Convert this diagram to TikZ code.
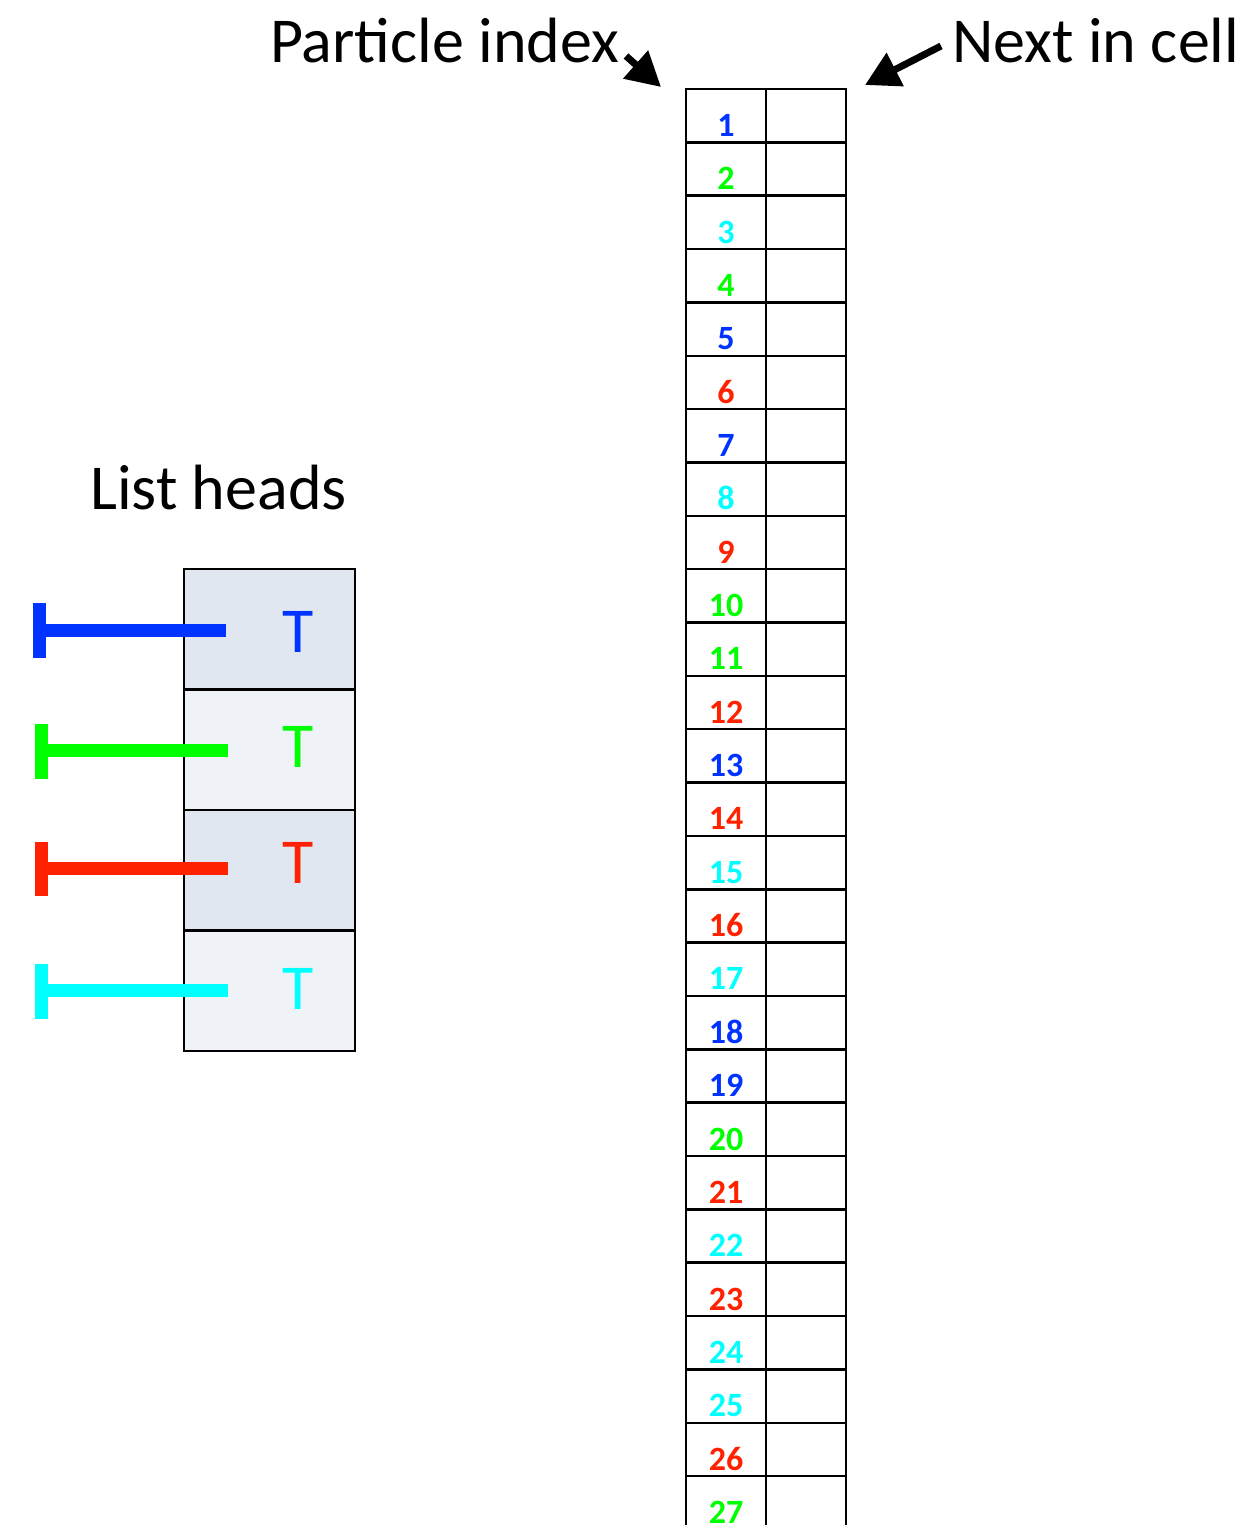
\documentclass[tikz,border=0pt]{standalone}
\usepackage{fontspec}
\setmainfont{Carlito}
\usetikzlibrary{arrows.meta}
\definecolor{cblue}{RGB}{0,51,255}
\definecolor{cgreen}{RGB}{0,255,0}
\definecolor{cred}{RGB}{255,34,0}
\definecolor{ccyan}{RGB}{0,255,255}
\definecolor{fdark}{RGB}{224,231,241}
\definecolor{flight}{RGB}{239,243,248}
\tikzset{
  cellbox/.style={draw=black, line width=2.5pt, minimum width=80pt, minimum height=53.35pt, inner sep=0pt, outer sep=0pt},
  headbox/.style={draw=black, line width=2.5pt, minimum width=171pt, minimum height=120.5pt, inner sep=0pt, outer sep=0pt},
  numtxt/.style={anchor=base, inner sep=0pt, font=\fontsize{34}{40}\selectfont\bfseries},
  bigtxt/.style={anchor=base west, inner sep=0pt, font=\fontsize{64}{70}\selectfont},
  ttxt/.style={anchor=base, inner sep=0pt, font=\fontsize{64}{70}\selectfont},
  pointer/.style={line width=7pt, -{Triangle[length=34pt,width=36pt]}},
  headbar/.style={line width=13pt, line cap=butt}
}
\begin{document}
\begin{tikzpicture}[x=1pt,y=-1pt]
\useasboundingbox[fill=white] (0,0) rectangle (1244,1525);
% table
\foreach \i/\c in {1/cblue,2/cgreen,3/ccyan,4/cgreen,5/cblue,6/cred,7/cblue,8/ccyan,9/cred,10/cgreen,11/cgreen,12/cred,13/cblue,14/cred,15/ccyan,16/cred,17/ccyan,18/cblue,19/cblue,20/cgreen,21/cred,22/ccyan,23/cred,24/ccyan,25/ccyan,26/cred,27/cgreen}{
  \pgfmathsetmacro{\yc}{89+53.35*(\i-1)+26.675}
  \pgfmathsetmacro{\yb}{89+53.35*\i-6}
  \node[cellbox] (p\i) at (726,\yc) {};
  \node[cellbox] (q\i) at (806,\yc) {};
  \node[numtxt, text=\c] (n\i) at (726,\yb) {\i};
}
% list heads
\node[headbox, fill=fdark]  (h1) at (269.5,629.25) {};
\node[headbox, fill=flight] (h2) at (269.5,749.75) {};
\node[headbox, fill=fdark]  (h3) at (269.5,870.25) {};
\node[headbox, fill=flight] (h4) at (269.5,990.75) {};
\node[ttxt, text=cblue]  (t1) at (298,652) {T};
\node[ttxt, text=cgreen] (t2) at (298,767) {T};
\node[ttxt, text=cred]   (t3) at (298,883) {T};
\node[ttxt, text=ccyan]  (t4) at (298,1009) {T};
% bars
\coordinate (e1) at (226,630);   \coordinate (s1) at (33,630);
\coordinate (e2) at (228,750.5); \coordinate (s2) at (35,750.5);
\coordinate (e3) at (228,868);   \coordinate (s3) at (35,868);
\coordinate (e4) at (228,990.5); \coordinate (s4) at (35,990.5);
\draw[headbar, cblue]  (e1) -- (s1);
\draw[headbar, cblue]  (39.5,603) -- (39.5,658);
\draw[headbar, cgreen] (e2) -- (s2);
\draw[headbar, cgreen] (41.5,724) -- (41.5,779);
\draw[headbar, cred]   (e3) -- (s3);
\draw[headbar, cred]   (41.5,842) -- (41.5,896);
\draw[headbar, ccyan]  (e4) -- (s4);
\draw[headbar, ccyan]  (41.5,964) -- (41.5,1019);
% labels
\node[bigtxt] (lpi) at (270,63) {Particle index};
\node[bigtxt] (lnc) at (952,63) {Next in cell};
\node[bigtxt] (llh) at (90,509) {List heads};
\coordinate (a1s) at (626,56);
\coordinate (a1e) at (661,87);
\coordinate (a2s) at (941,46);
\coordinate (a2e) at (865,85);
\draw[pointer] (a1s) -- (a1e);
\draw[pointer] (a2s) -- (a2e);
\end{tikzpicture}
\end{document}
